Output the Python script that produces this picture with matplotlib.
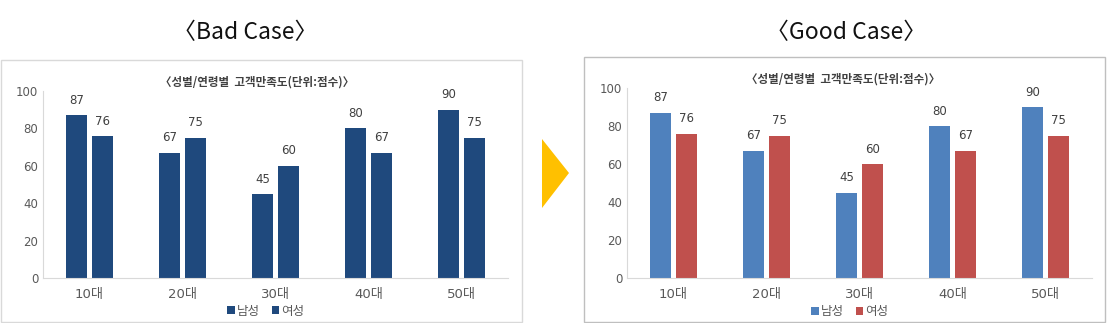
import matplotlib
matplotlib.use('Agg')
import matplotlib.pyplot as plt
from matplotlib.patches import Rectangle, Polygon
import numpy as np

plt.rcParams['font.family'] = ['Noto Sans CJK KR', 'DejaVu Sans']
NUM_FONT = ['DejaVu Sans', 'Noto Sans CJK KR']

# 데이터
categories = ['10대', '20대', '30대', '40대', '50대']
male = [87, 67, 45, 80, 90]
female = [76, 75, 60, 67, 75]
series_names = ['남성', '여성']
chart_title = '〈성별/연령별  고객만족도(단위:점수)〉'

W, H = 1107, 323
fig = plt.figure(figsize=(W / 100, H / 100), dpi=100)


def fx(px):
    return px / W


def fy(py):
    return 1 - py / H


def draw_panel(x0, x1, y_top, y_bot, colors, case_title, case_cx, title_cx, title_y, legend_cx, legend_y):
    ax = fig.add_axes([fx(x0), fy(y_bot), fx(x1 - x0), (y_bot - y_top) / H])
    x = np.arange(len(categories))
    w = 0.22
    off = 0.14
    b1 = ax.bar(x - off, male, w, color=colors[0], label=series_names[0])
    b2 = ax.bar(x + off, female, w, color=colors[1], label=series_names[1])
    for bars in (b1, b2):
        ax.bar_label(bars, padding=6, fontsize=8.5, color='#404040', family=NUM_FONT)
    ax.set_xlim(-0.5, len(categories) - 0.5)
    ax.set_ylim(0, 100)
    ax.set_yticks(range(0, 101, 20))
    ax.set_xticks(x)
    ax.tick_params(length=0, labelsize=8.5, colors='#595959')
    ax.set_xticklabels(categories, family=NUM_FONT, fontsize=9.5)
    for t in ax.get_yticklabels():
        t.set_family(NUM_FONT)
    ax.tick_params(axis='x', pad=7)
    for s in ('top', 'right'):
        ax.spines[s].set_visible(False)
    for s in ('left', 'bottom'):
        ax.spines[s].set_color('#D9D9D9')
    ax.patch.set_alpha(0)

    fig.text(fx(title_cx), fy(title_y), chart_title, ha='center', va='center',
             fontsize=8.3, fontweight='bold', color='#404040')
    fig.text(fx(case_cx), fy(33), case_title, ha='center', va='center',
             fontsize=16.5, color='#111111')
    ax.legend(loc='center', bbox_to_anchor=(fx(legend_cx), fy(legend_y)),
              bbox_transform=fig.transFigure, ncol=2, frameon=False,
              fontsize=9, handlelength=0.6, handleheight=0.6,
              handletextpad=0.2, columnspacing=0.9, labelcolor='#595959')
    return ax


# 테두리
fig.add_artist(Rectangle((fx(1), fy(322)), fx(521), (322 - 60) / H,
                         transform=fig.transFigure, fill=False,
                         edgecolor='#D9D9D9', lw=1))
fig.add_artist(Rectangle((fx(584), fy(322)), fx(521), (322 - 57) / H,
                         transform=fig.transFigure, fill=False,
                         edgecolor='#BFBFBF', lw=1))

# 화살표
fig.add_artist(Polygon([(fx(542), fy(139)), (fx(542), fy(208)), (fx(569), fy(173))],
                       closed=True, transform=fig.transFigure,
                       facecolor='#FFC000', edgecolor='none'))

draw_panel(43, 508, 91, 278, ['#1F497D', '#1F497D'], '〈Bad Case〉',
           245, 257, 82, 266, 311)
draw_panel(627, 1092, 88, 278, ['#4F81BD', '#C0504D'], '〈Good Case〉',
           846, 843, 79, 850, 312)

plt.savefig('out.png', dpi=100)
plt.close(fig)
